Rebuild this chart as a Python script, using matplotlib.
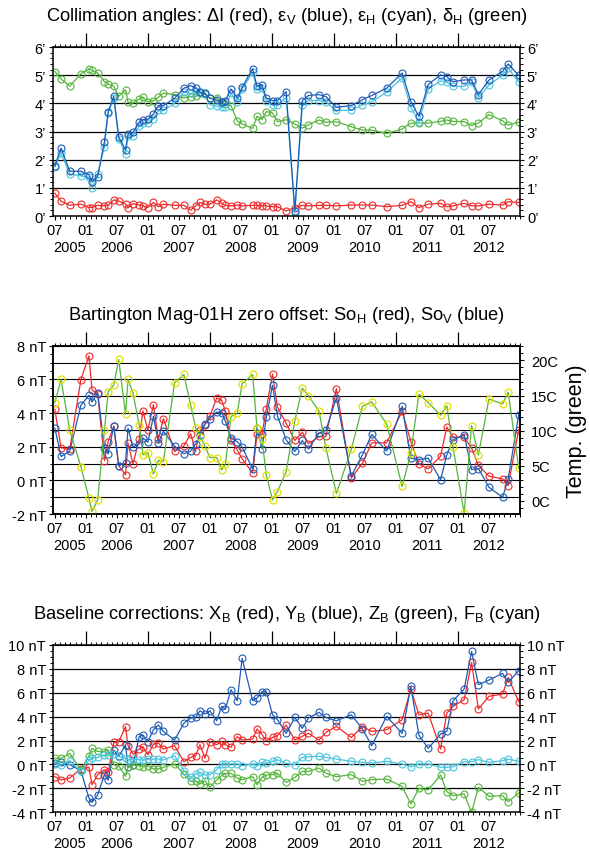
import numpy as np
import matplotlib
matplotlib.use("Agg")
import matplotlib.pyplot as plt
from matplotlib.ticker import MultipleLocator, FixedLocator, NullFormatter

plt.rcParams['font.family'] = ['Liberation Sans', 'DejaVu Sans']
plt.rcParams['mathtext.fontset'] = 'custom'
plt.rcParams['mathtext.rm'] = 'Liberation Sans'
plt.rcParams['mathtext.it'] = 'Liberation Sans:italic'
plt.rcParams['mathtext.bf'] = 'Liberation Sans:bold'

# measurement epochs (decimal years), shared by all panels
dates = [2005.50, 2005.60, 2005.74, 2005.92,
         2006.05, 2006.10, 2006.19, 2006.30, 2006.36, 2006.45, 2006.53, 2006.64, 2006.68, 2006.76, 2006.86, 2006.92,
         2007.00, 2007.09, 2007.17, 2007.25, 2007.43, 2007.58, 2007.69, 2007.77, 2007.84, 2007.92,
         2008.00, 2008.11, 2008.19, 2008.25, 2008.34, 2008.44, 2008.52, 2008.69, 2008.76, 2008.84, 2008.91,
         2009.01, 2009.09, 2009.23, 2009.37, 2009.49, 2009.59, 2009.76, 2009.87,
         2010.04, 2010.28, 2010.46, 2010.61, 2010.85,
         2011.10, 2011.24, 2011.37, 2011.52, 2011.72, 2011.82, 2011.92,
         2012.10, 2012.22, 2012.33, 2012.50, 2012.72, 2012.81, 2012.98]

# --- collimation angles (arc minutes)
dI = [0.81, 0.53, 0.38, 0.42,
      0.30, 0.30, 0.38, 0.36, 0.38, 0.57, 0.53, 0.42, 0.30, 0.44, 0.39, 0.36,
      0.30, 0.48, 0.33, 0.42, 0.38, 0.38, 0.21, 0.36, 0.48, 0.42,
      0.42, 0.57, 0.45, 0.38, 0.36, 0.39, 0.36, 0.38, 0.38, 0.36, 0.36,
      0.33, 0.33, 0.18, 0.30, 0.38, 0.36, 0.38, 0.38,
      0.36, 0.39, 0.39, 0.39, 0.33,
      0.38, 0.51, 0.30, 0.42, 0.45, 0.33, 0.36,
      0.45, 0.36, 0.36, 0.42, 0.39, 0.51, 0.48]
epsV = [1.78, 2.41, 1.59, 1.59,
        1.47, 1.21, 1.39, 2.64, 3.70, 4.25, 2.81, 2.35, 2.91, 2.97, 3.33, 3.42,
        3.44, 3.62, 3.92, 3.92, 4.18, 4.54, 4.63, 4.55, 4.39, 4.36,
        4.18, 4.12, 4.06, 4.10, 4.51, 4.18, 4.57, 5.23, 4.60, 4.66, 4.18,
        4.10, 4.10, 4.42, 0.18, 4.10, 4.28, 4.31, 4.24,
        3.86, 3.92, 4.13, 4.28, 4.54,
        5.08, 4.06, 3.54, 4.67, 5.01, 4.95, 4.77,
        4.83, 4.83, 4.31, 4.83, 5.14, 5.40, 4.99]
epsH = [1.75, 2.23, 1.50, 1.42,
        1.38, 0.98, 1.50, 2.45, 3.65, 4.20, 2.75, 2.20, 2.85, 2.85, 3.20, 3.30,
        3.30, 3.45, 3.75, 3.75, 4.00, 4.40, 4.35, 4.45, 4.35, 4.35,
        3.95, 3.90, 3.88, 3.88, 4.35, 4.05, 4.50, 5.10, 4.50, 4.55, 4.10,
        3.95, 3.95, 4.20, 0.12, 3.94, 4.10, 4.10, 4.05,
        3.75, 3.75, 3.95, 4.05, 4.40,
        4.90, 3.85, 3.35, 4.50, 4.80, 4.75, 4.60,
        4.60, 4.75, 4.20, 4.65, 5.00, 5.25, 4.75]
deltaH = [5.13, 4.87, 4.61, 5.05,
          5.23, 5.17, 5.08, 4.77, 4.69, 4.61, 4.25, 4.48, 4.04, 4.01, 4.16, 4.22,
          4.06, 4.10, 4.22, 4.36, 4.31, 4.19, 4.24, 4.25, 4.36, 4.33,
          4.18, 4.20, 4.04, 3.96, 3.92, 3.38, 3.27, 3.11, 3.54, 3.42, 3.71,
          3.66, 3.35, 3.42, 3.27, 3.12, 3.24, 3.41, 3.33,
          3.35, 3.17, 3.05, 3.05, 2.93,
          3.09, 3.30, 3.30, 3.30, 3.36, 3.41, 3.36,
          3.35, 3.21, 3.30, 3.60, 3.38, 3.23, 3.33]

# --- Bartington zero offsets (nT) and temperature (C)
SoH = [4.22, 1.94, 1.84, 5.99,
       7.40, 5.36, 5.16, 1.18, 2.31, 3.21, 0.88, 0.33, 2.21, 0.98, 2.43, 4.12,
       2.97, 4.50, 2.43, 3.67, 1.72, 2.04, 2.77, 1.74, 2.97, 3.31,
       3.82, 4.90, 4.76, 4.10, 2.37, 1.82, 1.28, 0.45, 2.73, 2.73, 4.26,
       6.31, 4.36, 3.39, 2.37, 2.87, 2.17, 2.61, 2.61,
       5.45, 0.13, 1.02, 2.23, 2.23,
       4.10, 2.31, 0.98, 0.68, 1.44, 3.17, 2.57,
       2.57, 1.92, 0.89, 0.25, 0.09, -0.31, 3.02]
SoV = [3.11, 1.42, 1.74, 4.46,
       5.06, 4.66, 5.22, 1.92, 1.58, 3.23, 0.88, 1.02, 3.11, 1.98, 2.17, 2.51,
       2.27, 3.81, 2.21, 2.91, 2.04, 1.58, 1.74, 2.17, 2.67, 3.37,
       3.67, 4.06, 4.02, 3.51, 2.51, 2.31, 1.98, 0.68, 3.11, 1.88, 3.77,
       5.65, 3.82, 2.41, 1.72, 2.37, 1.87, 2.81, 2.97,
       4.90, 0.25, 1.52, 2.73, 1.74,
       4.40, 1.32, 1.24, 1.32, 0.03, 1.52, 2.41,
       2.71, 0.64, 0.70, -0.41, -1.00, 0.09, 3.90]
temp = [14.0, 17.3, 10.05, 4.87,
        0.36, -1.53, 0.10, 10.05, 15.56, 16.49, 20.14, 12.3, 17.3, 15.32, 10.8, 6.54,
        6.87, 3.79, 5.78, 5.58, 16.8, 18.0, 13.65, 10.43, 9.14, 7.83,
        6.16, 6.16, 4.39, 5.20, 12.0, 12.46, 16.68, 18.0, 10.33, 8.76, 3.65,
        0.12, 1.31, 4.15, 11.4, 16.06, 14.97, 12.75, 7.56,
        1.04, 7.32, 13.46, 14.08, 10.96,
        2.04, 6.76, 15.2, 14.0, 12.2, 13.56, 7.65,
        -1.79, 10.72, 6.52, 14.5, 13.8, 15.5, 4.63]

# --- baseline corrections (nT)
XB = [-1.02, -1.30, -1.13, -0.38,
      -0.24, -1.69, -0.85, -0.44, -0.66, 1.84, 1.90, 3.15, 1.57, 0.87, 1.29, 1.48,
      0.81, 1.70, 1.79, 1.29, 1.57, 0.23, 0.59, 0.73, 1.65, 0.53,
      1.90, 1.65, 1.93, 1.65, 1.43, 2.32, 2.04, 2.12, 2.96, 2.49, 1.98,
      2.26, 2.40, 3.29, 2.04, 2.35, 2.60, 2.04, 2.68,
      3.18, 2.26, 3.15, 2.76, 2.90,
      3.74, 6.30, 4.15, 4.29, 1.29, 4.29, 4.85,
      5.41, 8.52, 4.63, 5.69, 5.88, 7.27, 5.24]
YB = [0.09, 0.18, -0.02, -0.52,
      -2.83, -3.16, -2.55, -0.85, -1.30, 1.20, 0.68, 1.62, -0.24, -0.02, 2.32, 2.46,
      1.90, 2.90, 3.29, 2.76, 2.04, 3.43, 3.88, 3.93, 4.49, 4.21,
      4.49, 3.65, 4.85, 4.63, 6.24, 5.32, 8.86, 5.32, 5.55, 6.08, 6.08,
      4.15, 3.74, 2.60, 3.93, 3.01, 3.88, 4.35, 3.93,
      3.65, 4.15, 2.96, 1.57, 4.02,
      2.60, 6.52, 2.46, 1.34, 2.54, 2.76, 5.32,
      6.30, 9.44, 6.66, 7.05, 7.61, 6.86, 7.83]
ZB = [0.54, 0.51, 0.93, -0.44,
      0.73, 1.34, 1.09, 1.07, 1.23, -0.02, -0.10, -0.99, -0.24, -0.02, -0.10, -0.19,
      -0.10, -0.38, -0.38, -0.24, 0.04, -0.80, -1.41, -1.36, -1.63, -1.36,
      -1.91, -1.30, -0.94, -0.74, -0.74, -1.13, -1.27, -1.02, -1.69, -1.08, -0.88,
      -0.85, -0.74, -1.50, -1.08, -0.58, -0.58, -0.30, -0.72,
      -1.02, -0.85, -1.41, -1.27, -1.22,
      -1.83, -3.30, -2.00, -2.13, -0.88, -2.27, -2.61,
      -2.47, -4.00, -1.91, -2.66, -2.61, -3.11, -2.38]
FB = [0.04, -0.05, 0.31, -0.58,
      0.37, 0.51, 0.59, 0.79, 0.79, 0.87, 0.65, 0.54, 0.40, 0.45, 0.40, 0.37,
      0.45, 0.45, 0.45, 0.37, 0.73, -0.52, -1.08, -0.80, -0.66, -0.88,
      -0.85, -0.44, 0.04, 0.04, 0.04, 0.04, -0.10, 0.04, -0.10, 0.18, 0.09,
      0.26, 0.40, 0.09, -0.02, 0.59, 0.65, 0.68, 0.59,
      0.45, 0.26, 0.18, 0.12, 0.26,
      0.04, -0.19, 0.04, 0.04, -0.24, -0.24, -0.19,
      0.23, 0.23, 0.40, 0.18, 0.31, 0.45, 0.26]

years = [2005, 2006, 2007, 2008, 2009, 2010, 2011, 2012]

RED = '#ee2a2a'
BLUE = '#1f5bb5'
CYAN = '#48c4e0'
GREEN = '#55b43c'
YELLOW = '#e4e000'


def series(ax, y, color, mec=None):
    ax.plot(dates, y, '-o', color=color, lw=0.9, ms=5, mfc='none',
            mec=mec or color, mew=0.8)


def time_axis(ax):
    ax.set_xlim(2005.47, 2013.0)
    majors = np.arange(2005.5, 2013.0, 0.5)
    ax.xaxis.set_major_locator(FixedLocator(majors))
    ax.set_xticklabels(['07' if m % 1 else '01' for m in majors])
    ax.xaxis.set_minor_locator(FixedLocator(np.arange(2005.5, 2013.01, 1 / 12)))
    ax.tick_params(axis='x', which='major', direction='out', length=3, width=0.8,
                   pad=2, labelsize=10.5)
    ax.tick_params(axis='x', which='minor', direction='out', length=2, width=0.7)
    # long January ticks along the top edge
    top = ax.secondary_xaxis('top')
    top.xaxis.set_major_locator(FixedLocator(range(2006, 2013)))
    top.xaxis.set_minor_locator(FixedLocator(np.arange(2005.5, 2013.01, 1 / 12)))
    top.xaxis.set_major_formatter(NullFormatter())
    top.tick_params(which='major', length=10, width=0.9, direction='out')
    top.tick_params(which='minor', length=2, width=0.7, direction='out')
    for y in years:
        if y == 2005:
            xy, ha = (2005.47, 0), 'left'
        else:
            xy, ha = (y + 0.5, 0), 'center'
        ax.annotate(str(y), xy=xy, xycoords=('data', 'axes fraction'),
                    xytext=(0, -22), textcoords='offset points',
                    ha=ha, va='center', fontsize=10.5)
    for s in ax.spines.values():
        s.set_linewidth(1.1)


def title(ax, text):
    ax.annotate(text, xy=(0.5, 1), xycoords='axes fraction', xytext=(0, 22.5),
                textcoords='offset points', ha='center', va='center', fontsize=13.2)


fig = plt.figure(figsize=(5.9, 8.53), dpi=100)

# ---------------- top panel
ax1 = fig.add_axes([0.0898, 0.7456, 0.7915, 0.1981])
for g in range(1, 6):
    ax1.axhline(g, color='black', lw=0.9, zorder=1)
series(ax1, deltaH, GREEN)
series(ax1, dI, RED)
series(ax1, epsH, CYAN)
series(ax1, epsV, BLUE)
ax1.set_ylim(0, 6)
ax1.yaxis.set_major_locator(MultipleLocator(1))
ax1.yaxis.set_minor_locator(MultipleLocator(0.2))
ax1.yaxis.set_major_formatter(plt.FuncFormatter(lambda v, p: '%d\u2019' % round(v)))
ax1.tick_params(axis='y', which='major', direction='out', length=3, width=0.8,
                labelsize=10.5, right=True, labelright=True, pad=2)
ax1.tick_params(axis='y', which='minor', direction='out', length=2, width=0.7, right=True)
time_axis(ax1)
title(ax1, 'Collimation angles: \u0394I (red), \u03b5$_\\mathrm{V}$ (blue), '
      '\u03b5$_\\mathrm{H}$ (cyan), \u03b4$_\\mathrm{H}$ (green)')

# ---------------- middle panel
ax2 = fig.add_axes([0.0898, 0.3962, 0.7915, 0.1973])
for g in range(-1, 8):
    ax2.axhline(g, color='black', lw=0.8, zorder=1)
series(ax2, SoH, RED)
series(ax2, SoV, BLUE)
ax2.set_ylim(-2, 8)
ax2.yaxis.set_major_locator(MultipleLocator(2))
ax2.yaxis.set_minor_locator(MultipleLocator(0.5))
ax2.yaxis.set_major_formatter(plt.FuncFormatter(lambda v, p: '%d nT' % round(v)))
ax2.tick_params(axis='y', which='major', direction='out', length=3, width=0.8,
                labelsize=10.5, pad=2)
ax2.tick_params(axis='y', which='minor', direction='out', length=2, width=0.7)
time_axis(ax2)
tw = ax2.twinx()
tw.plot(dates, temp, '-o', color=GREEN, lw=0.9, ms=5, mfc='none', mec=YELLOW, mew=0.9)
tw.set_ylim(-1.9, 22.1)
tw.yaxis.set_major_locator(MultipleLocator(5))
tw.yaxis.set_minor_locator(MultipleLocator(1))
tw.yaxis.set_major_formatter(plt.FuncFormatter(lambda v, p: '%dC' % round(v)))
tw.tick_params(which='major', direction='out', length=3, width=0.8, labelsize=10.5, pad=5)
tw.tick_params(which='minor', direction='out', length=2, width=0.7)
tw.set_ylabel('Temp. (green)', fontsize=15.5, labelpad=6)
for s in tw.spines.values():
    s.set_linewidth(1.1)
title(ax2, 'Bartington Mag-01H zero offset: So$_\\mathrm{H}$ (red), So$_\\mathrm{V}$ (blue)')

# ---------------- bottom panel
ax3 = fig.add_axes([0.0898, 0.0465, 0.7915, 0.1965])
for g in range(-2, 9, 2):
    ax3.axhline(g, color='black', lw=0.9, zorder=1)
series(ax3, XB, RED)
series(ax3, YB, BLUE)
series(ax3, ZB, GREEN)
series(ax3, FB, CYAN)
ax3.set_ylim(-4, 10)
ax3.yaxis.set_major_locator(MultipleLocator(2))
ax3.yaxis.set_minor_locator(MultipleLocator(0.5))
ax3.yaxis.set_major_formatter(plt.FuncFormatter(lambda v, p: '%d nT' % round(v)))
ax3.tick_params(axis='y', which='major', direction='out', length=3, width=0.8,
                labelsize=10.5, right=True, labelright=True, pad=2)
ax3.tick_params(axis='y', which='minor', direction='out', length=2, width=0.7, right=True)
time_axis(ax3)
title(ax3, 'Baseline corrections: X$_\\mathrm{B}$ (red), Y$_\\mathrm{B}$ (blue), '
      'Z$_\\mathrm{B}$ (green), F$_\\mathrm{B}$ (cyan)')

fig.savefig('out.png', dpi=100)
